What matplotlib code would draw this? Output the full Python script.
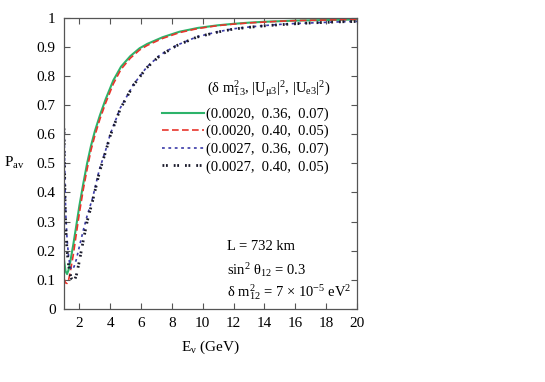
import numpy as np
import matplotlib
matplotlib.use("Agg")
import matplotlib.pyplot as plt

plt.rcParams['font.family'] = ['Liberation Serif', 'DejaVu Serif']
plt.rcParams['mathtext.fontset'] = 'custom'
plt.rcParams['mathtext.rm'] = 'Liberation Serif'
plt.rcParams['mathtext.it'] = 'Liberation Serif'
plt.rcParams['mathtext.bf'] = 'Liberation Serif:bold'
plt.rcParams['lines.scale_dashes'] = False

# values
E_a = [1.0, 1.1, 1.2, 1.3, 1.4, 1.5, 1.6, 1.75, 2.0, 2.25, 2.5, 2.75, 3.0, 3.33,
       3.7, 4.2, 4.7, 5.3, 5.9, 6.4, 7.4, 8.5, 9.7, 11, 12, 13, 14, 15, 16, 17,
       18, 19, 20]
P_green = [0.17, 0.13, 0.12, 0.135, 0.16, 0.19, 0.22, 0.27, 0.355, 0.43, 0.50,
           0.56, 0.61, 0.665, 0.72, 0.785, 0.832, 0.868, 0.895, 0.91, 0.933,
           0.952, 0.965, 0.974, 0.979, 0.983, 0.986, 0.988, 0.99, 0.991, 0.992,
           0.993, 0.994]
P_red = [0.105, 0.09, 0.088, 0.1, 0.125, 0.155, 0.185, 0.24, 0.33, 0.41, 0.48,
         0.545, 0.595, 0.652, 0.707, 0.773, 0.823, 0.861, 0.889, 0.905, 0.929,
         0.949, 0.963, 0.973, 0.978, 0.982, 0.985, 0.988, 0.99, 0.991, 0.992,
         0.993, 0.994]

E_b = [1.0, 1.03, 1.07, 1.12, 1.2, 1.3, 1.4, 1.5, 1.65, 1.8, 2.0, 2.25, 2.5,
       2.85, 3.3, 3.7, 4.0, 4.65, 5.5, 6.36, 7.23, 8.3, 9.6, 11, 12, 13, 14, 15,
       16, 17, 18, 19, 20]
P_blue = [0.65, 0.55, 0.42, 0.32, 0.24, 0.18, 0.145, 0.135, 0.145, 0.17, 0.215,
          0.27, 0.32, 0.38, 0.48, 0.545, 0.6, 0.69, 0.77, 0.83, 0.872, 0.905,
          0.934, 0.952, 0.962, 0.968, 0.973, 0.977, 0.98, 0.982, 0.984, 0.986,
          0.987]
P_black = [0.62, 0.50, 0.37, 0.27, 0.2, 0.15, 0.12, 0.103, 0.095, 0.115, 0.165,
           0.235, 0.30, 0.37, 0.47, 0.54, 0.595, 0.687, 0.768, 0.828, 0.87,
           0.904, 0.933, 0.951, 0.961, 0.967, 0.972, 0.976, 0.979, 0.982,
           0.984, 0.986, 0.987]

labels = ["(0.0020,  0.36,  0.07)", "(0.0020,  0.40,  0.05)",
          "(0.0027,  0.36,  0.07)", "(0.0027,  0.40,  0.05)"]

fig = plt.figure(figsize=(5.45, 3.82), dpi=100)
ax = fig.add_axes([0.1174, 0.191, 0.5376, 0.7627])

ax.plot(E_a, P_green, color='#2db36a', lw=1.5, label=labels[0])
ax.plot(E_a, P_red, color='#e8352c', lw=1.2, dashes=(4.8, 2.4), label=labels[1])
ax.plot(E_b, P_blue, color='#3a3aa8', lw=1.2, dashes=(2.0, 2.6), label=labels[2])
ax.plot(E_b, P_black, color='#1a1a2a', lw=2.0, dashes=(1.3, 1.2, 1.3, 4.3),
        label=labels[3])

ax.set_xlim(1, 20)
ax.set_ylim(0, 1)
ax.set_xticks(np.arange(2, 21, 2))
yt = np.round(np.arange(0, 1.01, 0.1), 1)
ax.set_yticks(yt)
ax.set_yticklabels(['0'] + ['%.1f' % v for v in yt[1:-1]] + ['1'])
ax.tick_params(direction='in', top=True, right=True, length=4, width=0.8,
               color='#555555', labelsize=11, pad=6)
for s in ax.spines.values():
    s.set_color('#555555')
    s.set_linewidth(0.9)

ax.set_xlabel(r'E$_{\nu}$ (GeV)', fontsize=11, labelpad=6)
ax.set_ylabel(r'P$_{\rm av}$', fontsize=11, rotation=0, labelpad=16, va='center')

leg = ax.legend(loc='upper left', bbox_to_anchor=(0.335, 0.692), frameon=False,
                fontsize=10.5, handlelength=2.9, handletextpad=0.1,
                labelspacing=0.28, borderaxespad=0, borderpad=0)

ax.text(0.488, 0.755, r'(δ m$^{2}_{13}$, |U$_{\mu3}$|$^{2}$, |U$_{e3}$|$^{2}$)',
        transform=ax.transAxes, fontsize=10.5, va='center', ha='left')

ax.text(0.556, 0.216, 'L = 732 km', transform=ax.transAxes, fontsize=10.5,
        va='center')
ax.text(0.556, 0.134, r'sin$^{2}$ θ$_{12}$ = 0.3', transform=ax.transAxes,
        fontsize=10.5, va='center')
ax.text(0.556, 0.058, r'δ m$^{2}_{12}$ = 7 × 10$^{-5}$ eV$^{2}$',
        transform=ax.transAxes, fontsize=10.5, va='center')

fig.savefig('out.png', dpi=100)
